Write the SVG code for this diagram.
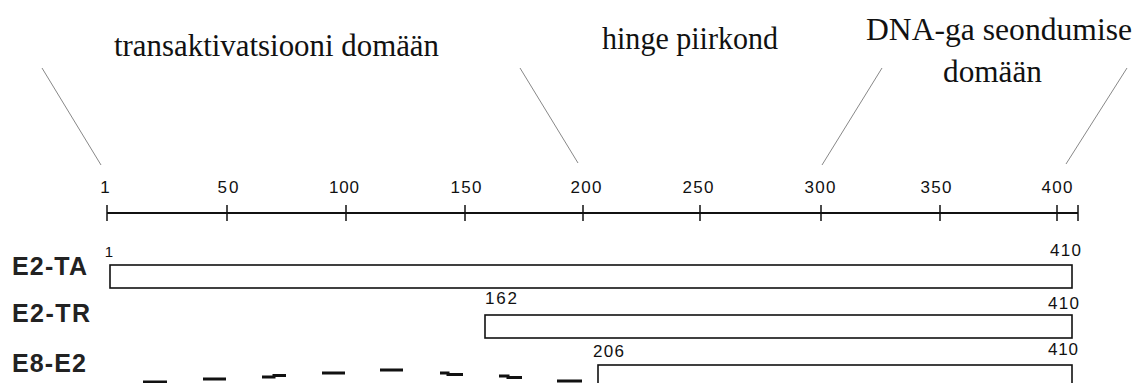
<svg xmlns="http://www.w3.org/2000/svg" width="1135" height="383" viewBox="0 0 1135 383">
<style>
.dom{font-family:"Liberation Serif","Times New Roman",serif;font-size:31px;fill:#111}
.num{font-family:"Liberation Sans",Arial,sans-serif;font-size:17px;fill:#111}
.small{font-family:"Liberation Sans",Arial,sans-serif;font-size:15px;fill:#111}
.row{font-family:"Liberation Sans",Arial,sans-serif;font-size:25px;font-weight:bold;fill:#222}
.box{fill:#fff;stroke:#111;stroke-width:1.6}
.tick{stroke:#111;stroke-width:1.5}
.lead{stroke:#888;stroke-width:1;fill:none}
</style>
<rect width="1135" height="383" fill="#fff"/>
<g id="domain-labels">
<text class="dom" x="114" y="56" textLength="325" lengthAdjust="spacingAndGlyphs">transaktivatsiooni domään</text>
<text class="dom" x="602" y="49" textLength="176" lengthAdjust="spacingAndGlyphs">hinge piirkond</text>
<text class="dom" x="866" y="40" textLength="266" lengthAdjust="spacingAndGlyphs">DNA-ga seondumise</text>
<text class="dom" x="943" y="82" textLength="99" lengthAdjust="spacingAndGlyphs">domään</text>
</g>
<g id="connectors">
<line class="lead" x1="42" y1="68" x2="101" y2="165"/>
<line class="lead" x1="520" y1="68" x2="578" y2="163"/>
<line class="lead" x1="882" y1="68" x2="822" y2="165"/>
<line class="lead" x1="1127" y1="68" x2="1066" y2="164"/>
</g>
<g id="axis">
<line x1="107" y1="213" x2="1078" y2="213" stroke="#111" stroke-width="2"/>
<g class="tick">
<line x1="107" y1="205" x2="107" y2="221"/>
<line x1="227" y1="205" x2="227" y2="221"/>
<line x1="346" y1="205" x2="346" y2="221"/>
<line x1="465" y1="205" x2="465" y2="221"/>
<line x1="583" y1="205" x2="583" y2="221"/>
<line x1="700" y1="205" x2="700" y2="221"/>
<line x1="821" y1="205" x2="821" y2="221"/>
<line x1="940" y1="205" x2="940" y2="221"/>
<line x1="1057" y1="205" x2="1057" y2="221"/>
<line x1="1078" y1="205" x2="1078" y2="221"/>
</g>
<g class="num" text-anchor="middle">
<text x="105" y="193">1</text>
<text x="228" y="193" textLength="21">50</text>
<text x="344" y="193" textLength="30">100</text>
<text x="466" y="193" textLength="31">150</text>
<text x="586" y="193" textLength="31">200</text>
<text x="698" y="193" textLength="31">250</text>
<text x="820" y="193" textLength="31">300</text>
<text x="936" y="193" textLength="31">350</text>
<text x="1057" y="193" textLength="31">400</text>
</g>
</g>
<g id="E2-TA">
<text class="row" x="12" y="275" textLength="75">E2-TA</text>
<rect class="box" x="110" y="265" width="962" height="23"/>
<text class="small" x="109" y="257" text-anchor="middle">1</text>
<text class="num" x="1050" y="256" textLength="31">410</text>
</g>
<g id="E2-TR">
<text class="row" x="12" y="322" textLength="78">E2-TR</text>
<rect class="box" x="485" y="315" width="587" height="23"/>
<text class="num" x="485" y="304" textLength="32">162</text>
<text class="num" x="1048" y="309" textLength="31">410</text>
</g>
<g id="E8-E2">
<text class="row" x="12" y="372" textLength="74">E8-E2</text>
<rect class="box" x="598" y="365" width="474" height="30"/>
<text class="num" x="593" y="357" textLength="31">206</text>
<text class="num" x="1048" y="355" textLength="30">410</text>
<path d="M143,382h24 M203,379h23 M262,377h12v-1.5h12 M322,373h23 M380,370h23 M440,373h8v1.5h15 M499,376h9v1.5h14 M557,381h25" stroke="#111" stroke-width="3" fill="none"/>
</g>
</svg>
